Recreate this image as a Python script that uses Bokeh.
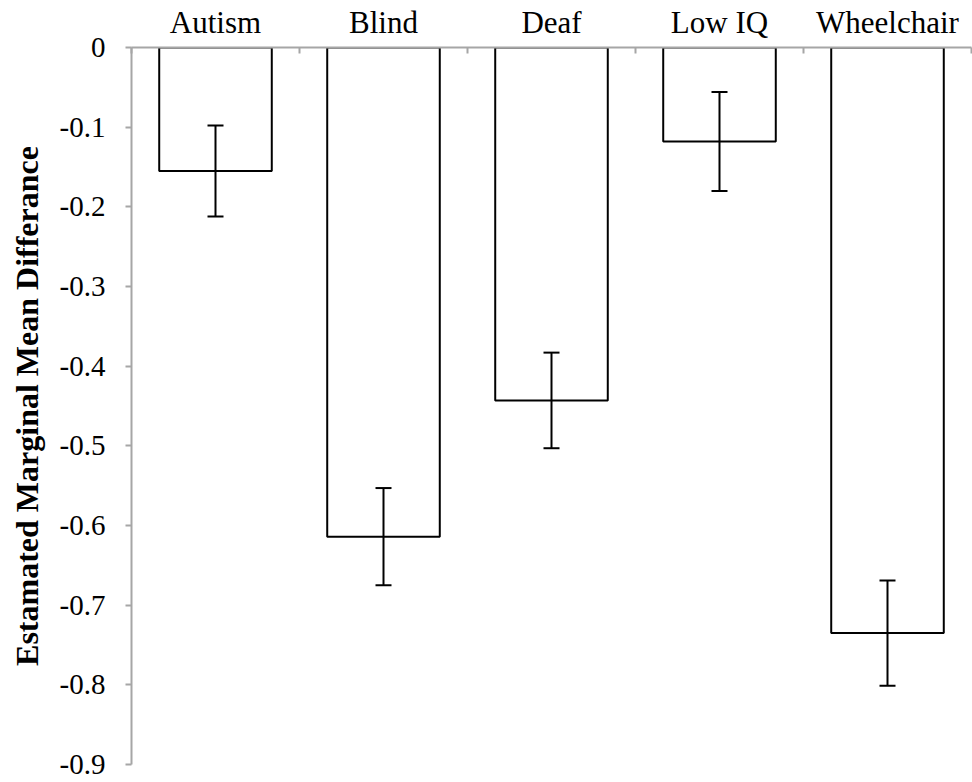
from bokeh.plotting import figure
from bokeh.models import Range1d, FixedTicker, Whisker, ColumnDataSource, TeeHead
from bokeh.embed import file_html
from bokeh.resources import INLINE

categories = ["Autism", "Blind", "Deaf", "Low IQ", "Wheelchair"]
means = [-0.155, -0.614, -0.443, -0.118, -0.735]
errors = [0.057, 0.061, 0.060, 0.062, 0.066]
y_ticks = [0, -0.1, -0.2, -0.3, -0.4, -0.5, -0.6, -0.7, -0.8, -0.9]
y_tick_labels = ["0", "-0.1", "-0.2", "-0.3", "-0.4", "-0.5", "-0.6", "-0.7", "-0.8", "-0.9"]
y_label = "Estamated Marginal Mean Differance"

n = len(categories)
centers = [i + 0.5 for i in range(n)]
bounds = [float(i) for i in range(n + 1)]

src = ColumnDataSource(dict(
    x=centers,
    mean=means,
    upper=[m + e for m, e in zip(means, errors)],
    lower=[m - e for m, e in zip(means, errors)],
))

FONT = "Liberation Serif"
AXIS_GRAY = "#a6a6a6"

p = figure(width=972, height=782, x_range=Range1d(0, n), y_range=Range1d(-0.9, 0),
           x_axis_location="above", output_backend="svg", toolbar_location=None,
           min_border_left=131, min_border_top=47, min_border_bottom=18, min_border_right=1)
p.outline_line_color = None
p.xgrid.visible = False
p.ygrid.visible = False
p.background_fill_color = "white"
p.border_fill_color = "white"

p.vbar(x="x", width=0.67, top=0, bottom="mean", source=src,
       fill_color="white", line_color="black", line_width=2)

w = Whisker(source=src, base="x", upper="upper", lower="lower",
            line_color="black", line_width=2, level="overlay",
            upper_head=TeeHead(size=16, line_width=2, line_color="black"),
            lower_head=TeeHead(size=16, line_width=2, line_color="black"))
p.add_layout(w)

xa = p.xaxis[0]
xa.ticker = FixedTicker(ticks=centers, minor_ticks=bounds)
xa.major_label_overrides = {c: lab for c, lab in zip(centers, categories)}
xa.major_tick_line_color = None
xa.minor_tick_line_color = AXIS_GRAY
xa.minor_tick_line_width = 2
xa.minor_tick_in = 6
xa.minor_tick_out = 0
xa.axis_line_color = AXIS_GRAY
xa.axis_line_width = 2
xa.major_label_text_font = FONT
xa.major_label_text_font_size = "31px"
xa.major_label_text_color = "black"
xa.major_label_standoff = 2

ya = p.yaxis[0]
ya.ticker = FixedTicker(ticks=y_ticks, minor_ticks=[])
ya.major_label_overrides = {t: lab for t, lab in zip(y_ticks, y_tick_labels)}
ya.major_tick_line_color = AXIS_GRAY
ya.major_tick_line_width = 2
ya.major_tick_in = 0
ya.major_tick_out = 6
ya.minor_tick_line_color = None
ya.axis_line_color = AXIS_GRAY
ya.axis_line_width = 2
ya.major_label_text_font = FONT
ya.major_label_text_font_size = "29px"
ya.major_label_text_color = "black"
ya.major_label_standoff = 20
ya.axis_label = y_label
ya.axis_label_text_font = FONT
ya.axis_label_text_font_style = "bold"
ya.axis_label_text_font_size = "32px"
ya.axis_label_text_color = "black"
ya.axis_label_standoff = 12

open("out.html", "w").write(file_html(p, INLINE))
